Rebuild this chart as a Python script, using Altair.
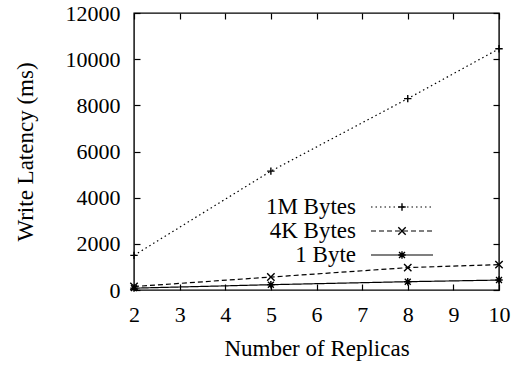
import altair as alt
import pandas as pd

replicas = [2, 5, 8, 10]
series = ["1M Bytes", "4K Bytes", "1 Byte"]
lat_1m = [1500, 5150, 8290, 10450]
lat_4k = [150, 560, 970, 1100]
lat_1b = [80, 230, 360, 430]

x_ticks = list(range(2, 11))
y_ticks = list(range(0, 12001, 2000))

rows = []
for s, vals in zip(series, [lat_1m, lat_4k, lat_1b]):
    for r, v in zip(replicas, vals):
        rows.append({"series": s, "replicas": r, "latency": v})
df = pd.DataFrame(rows)

FONT = "Liberation Serif"
FS = 22
FS_T = 23
PLUS = "M-1,0L1,0M0,-1L0,1"
CROSS = "M-1,-1L1,1M-1,1L1,-1"
STAR = "M-1,0L1,0M0,-1L0,1M-0.8,-0.8L0.8,0.8M-0.8,0.8L0.8,-0.8"
shapes = [PLUS, CROSS, STAR]
dashes = [[1.5, 3], [5, 3], [1, 0]]

W, H = 365, 277

xs = alt.Scale(domain=[2, 10], nice=False, zero=False)
ys = alt.Scale(domain=[0, 12000], nice=False)

common_axis = dict(domain=False, grid=False, tickColor="black", tickWidth=1.2,
                   tickSize=6, offset=-6, labelColor="black", labelFont=FONT,
                   labelFontSize=FS, titleFont=FONT, titleFontSize=FS_T,
                   titleFontWeight="normal", titleColor="black",
                   labelFlush=False, labelOverlap=False, format="d")

x_bottom = alt.Axis(values=x_ticks, orient="bottom", labelPadding=14,
                    title="Number of Replicas", titlePadding=12, **common_axis)
y_left = alt.Axis(values=y_ticks, orient="left", labelPadding=14,
                  title="Write Latency (ms)", titlePadding=28, **common_axis)
x_top = alt.Axis(values=x_ticks, orient="top", labels=False, title=None, **common_axis)
y_right = alt.Axis(values=y_ticks, orient="right", labels=False, title=None, **common_axis)

lines = alt.Chart(df).mark_line(color="black", strokeWidth=1.2, clip=True).encode(
    x=alt.X("replicas:Q", scale=xs, axis=x_bottom),
    y=alt.Y("latency:Q", scale=ys, axis=y_left),
    strokeDash=alt.StrokeDash("series:N", scale=alt.Scale(domain=series, range=dashes), legend=None),
    detail="series:N",
)

points = alt.Chart(df).mark_point(filled=False, color="black", strokeWidth=1.4, size=55, opacity=1).encode(
    x=alt.X("replicas:Q", scale=xs, axis=x_top),
    y=alt.Y("latency:Q", scale=ys, axis=y_right),
    shape=alt.Shape("series:N", scale=alt.Scale(domain=series, range=shapes), legend=None),
)

legend_layers = []
row_y = [194, 218, 242]
for s, sh, dsh, yy in zip(series, shapes, dashes, row_y):
    ld = pd.DataFrame({"series": [s]})
    legend_layers.append(alt.Chart(ld).mark_text(align="right", baseline="middle", font=FONT,
                                                 fontSize=FS_T, color="black").encode(
        text="series:N", x=alt.value(222), y=alt.value(yy)))
    legend_layers.append(alt.Chart(ld).mark_rule(color="black", strokeWidth=1.2, strokeDash=dsh).encode(
        x=alt.value(237), x2=alt.value(299), y=alt.value(yy)))
    legend_layers.append(alt.Chart(ld).mark_point(filled=False, color="black", strokeWidth=1.4,
                                                  size=55, opacity=1, shape=sh).encode(
        x=alt.value(268), y=alt.value(yy)))

chart = alt.layer(lines, points, *legend_layers).resolve_axis(x="independent", y="independent").properties(
    width=W, height=H,
    autosize=alt.AutoSizeParams(type="none"),
    padding={"left": 134, "top": 13, "right": 14, "bottom": 75},
    background="white",
).configure_view(stroke="black", strokeWidth=1.4)

chart.save("out.html", embed_options={"renderer": "svg", "actions": False})
